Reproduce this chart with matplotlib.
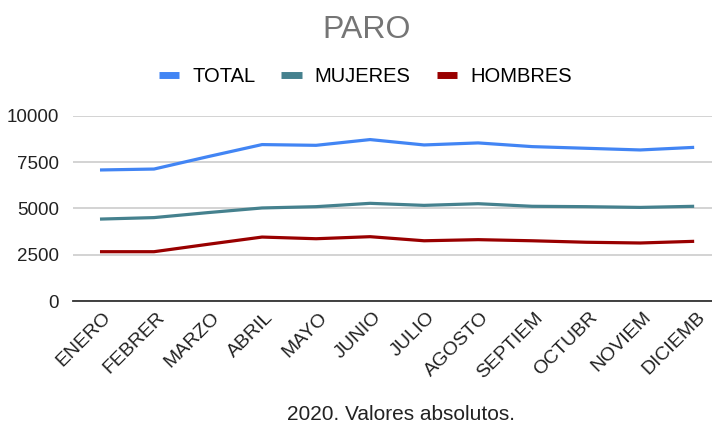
import matplotlib
matplotlib.use("Agg")
import matplotlib.pyplot as plt
import matplotlib.transforms as mtransforms
from matplotlib.lines import Line2D

plt.rcParams['font.family'] = ['Liberation Sans', 'DejaVu Sans']

meses = ["ENERO", "FEBRER", "MARZO", "ABRIL", "MAYO", "JUNIO", "JULIO",
         "AGOSTO", "SEPTIEM", "OCTUBR", "NOVIEM", "DICIEMB"]
total = [7070, 7120, 7790, 8440, 8400, 8710, 8420, 8530, 8330, 8240, 8150, 8290]
mujeres = [4420, 4500, 4770, 5020, 5090, 5270, 5160, 5250, 5110, 5090, 5050, 5110]
hombres = [2660, 2660, 3060, 3450, 3360, 3470, 3250, 3310, 3250, 3170, 3130, 3220]
yticks = [0, 2500, 5000, 7500, 10000]

c_total = "#4285F4"
c_muj = "#45818E"
c_hom = "#990000"

fig = plt.figure(figsize=(7.12, 4.30), dpi=100)
ax = fig.add_axes([0.1025, 0.30, 0.8975, 0.431])

x = range(len(meses))
ax.plot(x, total, color=c_total, lw=2.3, solid_capstyle='butt')
ax.plot(x, mujeres, color=c_muj, lw=2.3, solid_capstyle='butt')
ax.plot(x, hombres, color=c_hom, lw=2.3, solid_capstyle='butt')

ax.set_xlim(-0.5, 11.33)
ax.set_ylim(0, 10000)
ax.set_yticks(yticks)
ax.set_yticklabels([str(v) for v in yticks], fontsize=13.5, color="#222222")
ax.set_xticks(list(x))
ax.set_xticklabels(meses, rotation=45, ha='right', va='center',
                   rotation_mode='anchor', fontsize=14, color="#222222")
ax.tick_params(axis='both', length=0)
ax.tick_params(axis='y', pad=10)
ax.tick_params(axis='x', pad=10)
ax.grid(axis='y', color="#cccccc", lw=1.2)
ax.set_axisbelow(True)
for s in ['top', 'right', 'left']:
    ax.spines[s].set_visible(False)
ax.spines['bottom'].set_color("#333333")
ax.spines['bottom'].set_linewidth(1.3)

# shift the rotated labels a little to the right, like the original
fig.canvas.draw()
shift = mtransforms.ScaledTranslation(0.085, 0, fig.dpi_scale_trans)
for tick in ax.xaxis.get_major_ticks():
    tick.label1.set_transform(tick.label1.get_transform() + shift)

fig.text(0.515, 0.93, "PARO", fontsize=23, color="#757575", ha='center', va='center')
fig.text(0.563, 0.035, "2020. Valores absolutos.", fontsize=15, color="#222222",
         ha='center', va='center')

handles = [Line2D([], [], color=c, lw=5, solid_capstyle='butt')
           for c in (c_total, c_muj, c_hom)]
fig.legend(handles, ["TOTAL", "MUJERES", "HOMBRES"], loc='center',
           bbox_to_anchor=(0.513, 0.823), ncol=3, frameon=False, fontsize=14.5,
           handlelength=1.0, columnspacing=1.3, handletextpad=0.65)

fig.savefig("out.png", dpi=100)
